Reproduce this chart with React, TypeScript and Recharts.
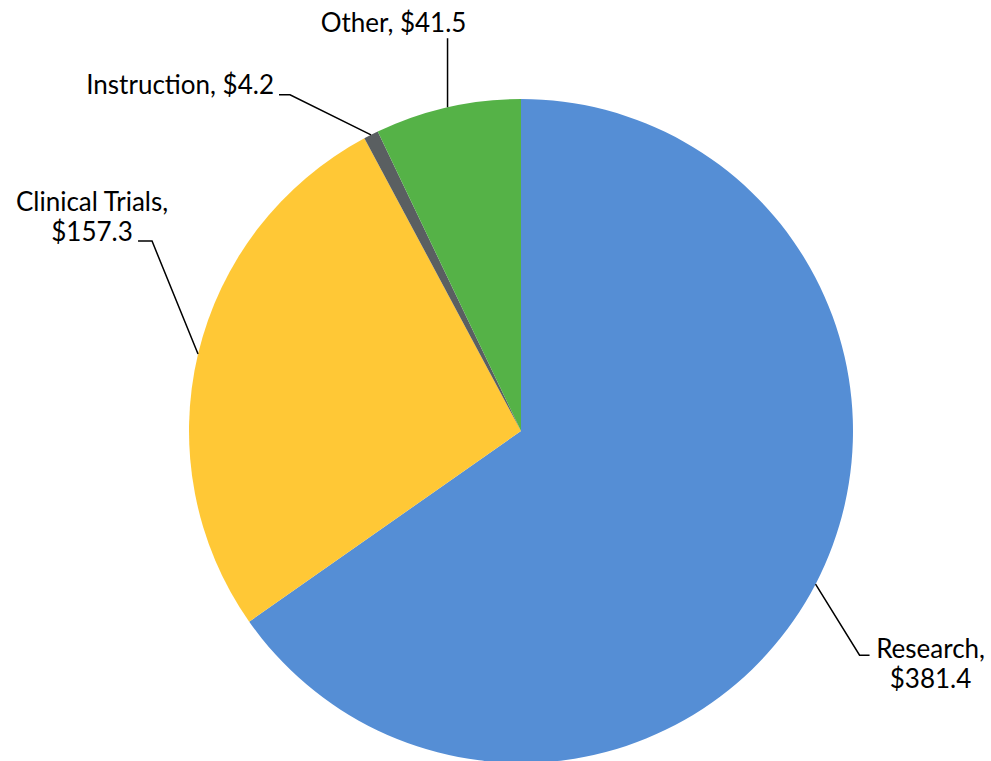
import React from "react";
import { PieChart, Pie, Cell } from "recharts";

const categories = ["Research", "Clinical Trials", "Instruction", "Other"];
const values = [381.4, 157.3, 4.2, 41.5];
const valueLabels = ["$381.4", "$157.3", "$4.2", "$41.5"];

const colors = ["#558ED5", "#FFC836", "#5A5F61", "#55B247"];

// leader line layout: elbow relative to the pie edge, text relative to the line end
const leaders: Record<string, { dx: number; dy: number; hx: number; tx: number; ty: number; anchor: string }> = {
  Research: { dx: 44, dy: 71, hx: 10, tx: 61, ty: 8, anchor: "middle" },
  "Clinical Trials": { dx: -46, dy: -113, hx: -14, tx: -46, ty: -25, anchor: "middle" },
  Instruction: { dx: -81, dy: -40, hx: -11, tx: -5, ty: -11, anchor: "end" },
  Other: { dx: 0, dy: -69, hx: 0, tx: -54, ty: -16, anchor: "middle" },
};

const data = categories.map((name, i) => ({ name, value: values[i], text: valueLabels[i] }));

const RAD = Math.PI / 180;

function renderLabel(props: any) {
  const { cx, cy, midAngle, outerRadius, name, payload } = props;
  const cfg = leaders[name];
  if (!cfg) return null;
  const lines =
    name === "Research" || name === "Clinical Trials"
      ? [`${name},`, payload.text]
      : [`${name}, ${payload.text}`];
  const ex = cx + outerRadius * Math.cos(-midAngle * RAD);
  const ey = cy + outerRadius * Math.sin(-midAngle * RAD);
  const bx = ex + cfg.dx;
  const by = ey + cfg.dy;
  const hx = bx + cfg.hx;
  const lineH = 30;
  const startY = by + cfg.ty - ((lines.length - 1) * lineH) / 2;
  return (
    <g>
      <polyline
        points={`${ex},${ey} ${bx},${by} ${hx},${by}`}
        fill="none"
        stroke="#000"
        strokeWidth={1.5}
      />
      <text
        x={hx + cfg.tx}
        y={startY}
        textAnchor={cfg.anchor as any}
        dominantBaseline="central"
        fontFamily="Lato"
        fontSize={26}
        fill="#000"
      >
        {lines.map((l, i) => (
          <tspan key={i} x={hx + cfg.tx} y={startY + i * lineH}>
            {l}
          </tspan>
        ))}
      </text>
    </g>
  );
}

export default function App() {
  return (
    <div style={{ position: "absolute", left: 0, top: 0, width: 991, height: 761, background: "#fff" }}>
      <PieChart width={991} height={761} margin={{ top: 0, right: 0, bottom: 0, left: 0 }}>
        <Pie
          data={data}
          dataKey="value"
          nameKey="name"
          cx={521}
          cy={431}
          outerRadius={332}
          startAngle={90}
          endAngle={-270}
          stroke="none"
          label={renderLabel}
          labelLine={false}
          isAnimationActive={false}
        >
          {data.map((d, i) => (
            <Cell key={d.name} fill={colors[i]} />
          ))}
        </Pie>
      </PieChart>
    </div>
  );
}
